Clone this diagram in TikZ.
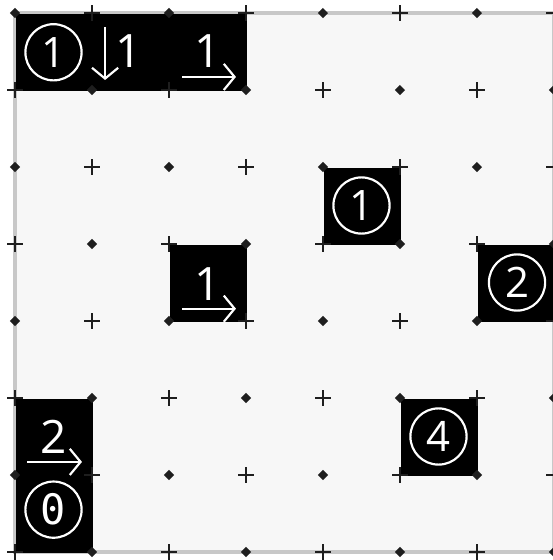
\documentclass[tikz,border=0pt]{standalone}
\usepackage{fontspec}
\setmainfont{Open Sans}
\newfontfamily\zerofont{DejaVu Sans Mono}
\usetikzlibrary{arrows.meta}
\definecolor{bgfill}{RGB}{247,247,247}
\definecolor{bordergrey}{RGB}{200,200,200}
\definecolor{markcol}{RGB}{30,30,30}
\begin{document}
\begin{tikzpicture}[x=1cm,y=-1cm,
  cellbox/.style={fill=black,draw=none,inner sep=0pt,anchor=north west},
  digit/.style={text=white,font=\fontsize{17}{17}\selectfont,inner sep=0pt},
  circdigit/.style={circle,draw=white,line width=0.8pt,minimum size=0.73cm,inner sep=0pt,text=white,font=\fontsize{15.5}{15.5}\selectfont},
  warrow/.style={draw=white,line width=0.8pt,-{Straight Barb[length=1.4mm,width=3.4mm]}},
  plusmark/.style={draw=markcol,line width=0.75pt},
  dmark/.style={fill=markcol}
]
\useasboundingbox (-0.1948,-0.1688) rectangle (6.987,7.104);
\fill[white] (-0.1948,-0.1688) rectangle (6.987,7.104);
\draw[fill=bgfill, draw=bordergrey, line width=1.4pt] (0,0) rectangle (7,7);

% black boxes
\node[cellbox, minimum width=3cm, minimum height=1cm] (boxA) at (0,0) {};
\node[cellbox, minimum width=1cm, minimum height=1cm] (boxB) at (4,2) {};
\node[cellbox, minimum width=1cm, minimum height=1cm] (boxC) at (2,3) {};
\node[cellbox, minimum width=1cm, minimum height=1cm] (boxD) at (6,3) {};
\node[cellbox, minimum width=1cm, minimum height=1cm] (boxE) at (5,5) {};
\node[cellbox, minimum width=1cm, minimum height=2cm] (boxF) at (0,5) {};

% top box contents
\node[circdigit] (cA) at (0.5,0.51) {1};
\coordinate (dA1) at (1.17,0.18);
\coordinate (dA2) at (1.17,0.87);
\draw[warrow] (dA1) -- (dA2);
\node[digit] (nA1) at (1.47,0.5) {1};
\node[digit] (nA2) at (2.5,0.5) {1};
\coordinate (rA1) at (2.17,0.83);
\coordinate (rA2) at (2.87,0.83);
\draw[warrow] (rA1) -- (rA2);

% single boxes
\node[circdigit] (cB) at (4.5,2.5) {1};
\node[digit] (nC) at (2.5,3.52) {1};
\coordinate (rC1) at (2.17,3.84);
\coordinate (rC2) at (2.87,3.84);
\draw[warrow] (rC1) -- (rC2);
\node[circdigit] (cD) at (6.52,3.5) {2};
\node[circdigit] (cE) at (5.5,5.5) {4};

% tall box
\node[digit] (nF) at (0.5,5.51) {2};
\coordinate (rF1) at (0.16,5.83);
\coordinate (rF2) at (0.87,5.83);
\draw[warrow] (rF1) -- (rF2);
\node[circdigit, font=\zerofont\fontsize{15.5}{15.5}\selectfont] (cF) at (0.5,6.45) {0};

% vertex markers
\foreach \i in {0,...,7}{
  \foreach \j in {0,...,7}{
    \pgfmathtruncatemacro\mk{mod(\i+\j,2)}
    \ifnum\mk=0
      \fill[dmark] (\i+0.065,\j) -- (\i,\j+0.065) -- (\i-0.065,\j) -- (\i,\j-0.065) -- cycle;
    \else
      \draw[plusmark] (\i-0.1,\j) -- (\i+0.1,\j) (\i,\j-0.1) -- (\i,\j+0.1);
    \fi
  }
}
\end{tikzpicture}
\end{document}
